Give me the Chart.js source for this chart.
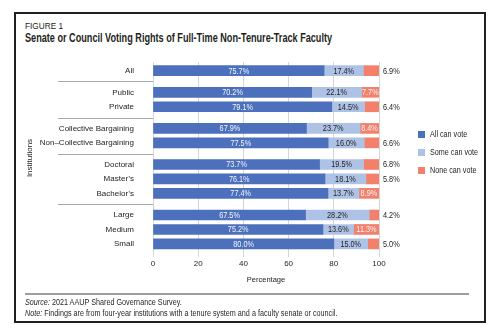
<!DOCTYPE html>
<html>
<head>
<meta charset="utf-8">
<script src="https://cdn.jsdelivr.net/npm/chart.js@4.4.0/dist/chart.umd.min.js"></script>
<style>
  body { margin: 0; background: #fff; }
  #wrap { position: relative; width: 500px; height: 335px; color: #231f20;
          font-family: "Liberation Sans", Arial, sans-serif; }
  #frame { position: absolute; left: 14px; top: 12px; width: 468px; height: 307px; border: 2px solid #231f20; }
  .cond { position: absolute; left: 25px; white-space: nowrap; transform-origin: 0 0; }
  #fig { top: 20px; font-size: 9.5px; transform: scaleX(0.87); }
  #title { top: 31px; font-size: 12px; font-weight: bold; transform: scaleX(0.76); }
  #rule { position: absolute; left: 25px; top: 293px; width: 444px; height: 2px; background: #9d9d9d; }
  .foot { font-size: 8.5px; transform: scaleX(0.85); }
  #chart { position: absolute; left: 0; top: 0; }
</style>
</head>
<body>
<div id="wrap">
  <div id="frame"></div>
  <div id="fig" class="cond">FIGURE 1</div>
  <div id="title" class="cond">Senate or Council Voting Rights of Full-Time Non-Tenure-Track Faculty</div>
  <canvas id="chart" width="500" height="335"></canvas>
  <div id="rule"></div>
  <div class="cond foot" style="top:297px"><i>Source:</i> 2021 AAUP Shared Governance Survey.</div>
  <div class="cond foot" style="top:308px"><i>Note:</i> Findings are from four-year institutions with a tenure system and a faculty senate or council.</div>
</div>
<script>
// institution groups, top to bottom
var groups = [
  ['All'],
  ['Public', 'Private'],
  ['Collective Bargaining', 'Non\u2013Collective Bargaining'],
  ['Doctoral', 'Master\u2019s', 'Bachelor\u2019s'],
  ['Large', 'Medium', 'Small']
];
var allCanVote  = [75.7, 70.2, 79.1, 67.9, 77.5, 73.7, 76.1, 77.4, 67.5, 75.2, 80.0];
var someCanVote = [17.4, 22.1, 14.5, 23.7, 16.0, 19.5, 18.1, 13.7, 28.2, 13.6, 15.0];
var noneCanVote = [6.9, 7.7, 6.4, 8.4, 6.6, 6.8, 5.8, 8.9, 4.2, 11.3, 5.0];
var seriesNames = ['All can vote', 'Some can vote', 'None can vote'];
var xTicks = [0, 20, 40, 60, 80, 100];

var FONT = '"Liberation Sans", Arial, sans-serif';
var TEXT = '#262324';
var colors = ['#4c70bc', '#aec2e6', '#f3806a'];

// rows sit 2 units apart inside a group, 3 units between groups
var categories = [], rowPos = [], dividers = [];
var p = -2;
groups.forEach(function (g, gi) {
  g.forEach(function (name, i) {
    if (gi > 0 && i === 0) { dividers.push(p + 1.5); p += 3; } else { p += 2; }
    categories.push(name);
    rowPos.push(p);
  });
});

function rows(values) {
  return values.map(function (v, i) { return { x: v, y: rowPos[i] }; });
}

// narrow text: squeeze horizontally around the anchor point
function narrowText(ctx, txt, x, y, align, sx) {
  ctx.save();
  ctx.translate(x, y);
  ctx.scale(sx, 1);
  ctx.textAlign = align;
  ctx.fillText(txt, 0, 0);
  ctx.restore();
}

// value labels on the segments, small red ones go outside
var barText = {
  id: 'barText',
  afterDatasetsDraw: function (chart) {
    var ctx = chart.ctx;
    ctx.save();
    ctx.font = '8.5px ' + FONT;
    ctx.textBaseline = 'middle';
    chart.data.datasets.forEach(function (ds, di) {
      chart.getDatasetMeta(di).data.forEach(function (bar, i) {
        var v = ds.data[i].x;
        var txt = v.toFixed(1) + '%';
        if (di === 2 && v < 7) {
          ctx.fillStyle = TEXT;
          narrowText(ctx, txt, chart.chartArea.right + 4, bar.y + 0.5, 'left', 0.86);
        } else {
          ctx.fillStyle = di === 1 ? TEXT : '#f2f5fb';
          narrowText(ctx, txt, (bar.x + bar.base) / 2, bar.y + 0.5, 'center', 0.86);
        }
      });
    });
    ctx.restore();
  }
};

// group separators in the label column + legend on the right
var extras = {
  id: 'extras',
  afterDraw: function (chart) {
    var ctx = chart.ctx, y = chart.scales.y;
    ctx.save();
    ctx.strokeStyle = '#a8a8a8';
    ctx.lineWidth = 1;
    dividers.forEach(function (d) {
      var py = Math.round(y.getPixelForValue(d)) + 0.5;
      ctx.beginPath();
      ctx.moveTo(58, py);
      ctx.lineTo(chart.chartArea.left, py);
      ctx.stroke();
    });
    ctx.font = '9px ' + FONT;
    ctx.textBaseline = 'middle';
    chart.data.datasets.forEach(function (ds, i) {
      var cy = 135 + i * 18;
      ctx.fillStyle = ds.backgroundColor;
      ctx.fillRect(418, cy - 4, 7, 7);
      ctx.fillStyle = TEXT;
      narrowText(ctx, ds.label, 430, cy, 'left', 0.8);
    });
    ctx.restore();
  }
};

new Chart(document.getElementById('chart'), {
  type: 'bar',
  data: {
    datasets: [
      { label: seriesNames[0], data: rows(allCanVote), backgroundColor: colors[0] },
      { label: seriesNames[1], data: rows(someCanVote), backgroundColor: colors[1] },
      { label: seriesNames[2], data: rows(noneCanVote), backgroundColor: colors[2] }
    ]
  },
  plugins: [barText, extras],
  options: {
    indexAxis: 'y',
    responsive: false,
    animation: false,
    barThickness: 10,
    layout: { padding: { left: 22, right: 121, top: 62, bottom: 51 } },
    plugins: { legend: { display: false }, tooltip: { enabled: false } },
    scales: {
      x: {
        type: 'linear', min: 0, max: 100, stacked: true,
        afterBuildTicks: function (s) { s.ticks = xTicks.map(function (v) { return { value: v }; }); },
        afterFit: function (s) { s.height = 30; },
        grid: { color: '#d6d6d6', tickLength: 3 },
        border: { display: false },
        ticks: { color: TEXT, padding: 2, font: { family: FONT, size: 8 } },
        title: { display: true, text: 'Percentage', color: TEXT, padding: 0, font: { family: FONT, size: 7.5 } }
      },
      y: {
        type: 'linear', reverse: true, min: -1.2, max: 25.4, stacked: true, offset: false,
        afterBuildTicks: function (s) { s.ticks = rowPos.map(function (v) { return { value: v }; }); },
        afterFit: function (s) { s.width = 131; },
        grid: { display: false },
        border: { display: false },
        ticks: {
          autoSkip: false, padding: 11, color: TEXT, font: { family: FONT, size: 8 },
          callback: function (v, i) { return categories[i]; }
        },
        title: { display: true, text: 'Institutions', color: TEXT, padding: { top: 3, bottom: 0 }, font: { family: FONT, size: 8 } }
      }
    }
  }
});
</script>
</body>
</html>
